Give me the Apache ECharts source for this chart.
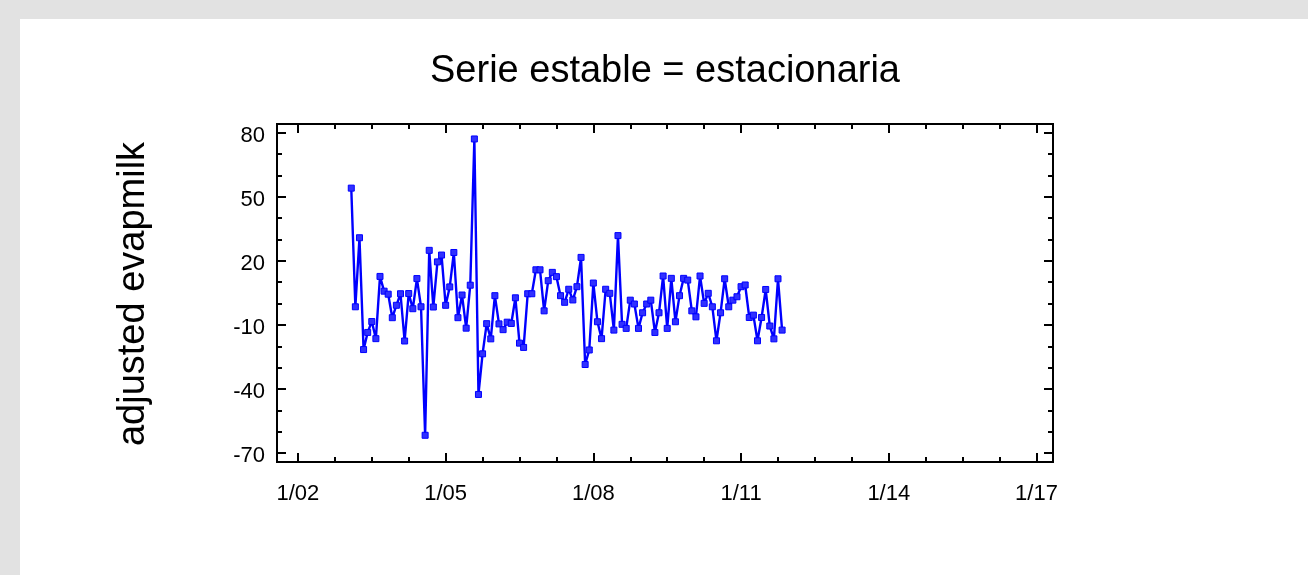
<!DOCTYPE html>
<html>
<head>
<meta charset="utf-8">
<script src="https://cdn.jsdelivr.net/npm/echarts@6/dist/echarts.min.js"></script>
<style>
  html, body { margin: 0; padding: 0; background: #ffffff; }
  #chart { width: 1308px; height: 575px; }
</style>
</head>
<body>
<div id="chart"></div>
<script>
// Monthly adjusted series, starting February 2003
const titleText = 'Serie estable = estacionaria';
const yAxisTitle = 'adjusted evapmilk';
const firstYear = 2003;
const firstMonth = 2;
const values = [
  54.0, -1.5, 30.8, -21.5, -13.5, -8.4, -16.4, 12.7, 5.8, 4.4,
  -6.6, -0.8, 4.6, -17.5, 4.7, -2.4, 11.7, -1.5, -61.6, 24.9,
  -1.6, 19.5, 22.7, -0.8, 7.8, 23.9, -6.6, 4.0, -11.5, 8.6,
  77.0, -42.5, -23.5, -9.4, -16.5, 3.7, -9.5, -12.2, -8.7, -9.3,
  2.7, -18.5, -20.5, 4.6, 4.6, 15.8, 15.8, -3.4, 10.7, 14.6,
  12.6, 3.7, 0.6, 6.7, 1.7, 7.9, 21.6, -28.5, -21.7, 9.6,
  -8.5, -16.4, 6.7, 4.8, -12.4, 31.8, -9.7, -11.6, 1.6, -0.2,
  -11.6, -4.3, -0.2, 1.6, -13.5, -4.3, 12.9, -11.6, 11.8, -8.5,
  3.7, 11.8, 11.0, -3.4, -6.2, 12.9, 0.1, 4.8, -1.5, -17.4,
  -4.3, 11.6, -1.5, 1.6, 3.2, 7.9, 8.7, -6.5, -5.4, -17.4,
  -6.5, 6.6, -10.5, -16.5, 11.6, -12.4
];
// Axis ticks: labelled years (January) and value ticks
const xMajorYears = [2002, 2005, 2008, 2011, 2014, 2017];
const yMajorTicks = [-70, -40, -10, 20, 50, 80];
const yMinorTicks = [-60, -50, -30, -20, 0, 10, 30, 40, 60, 70];

// Month positions as fractional years
const monthLabels = values.map((_, i) => {
  const m = firstMonth - 1 + i;
  return (firstYear + Math.floor(m / 12)) + '-' + String(m % 12 + 1).padStart(2, '0');
});
const points = monthLabels.map((lab, i) => {
  const [y, m] = lab.split('-').map(Number);
  return [y + (m - 1) / 12, values[i]];
});

// Minor x ticks every 9 months between labelled years
const xMinorTicks = [];
for (let k = 0; k < xMajorYears.length - 1; k++) {
  for (let j = 1; j <= 3; j++) xMinorTicks.push(xMajorYears[k] + j * 0.75);
}

const X_MIN = 2001.575, X_MAX = 2017.335;
const Y_MIN = -74.1, Y_MAX = 84.0;
const FONT = '"Liberation Sans", Arial, sans-serif';

function xAxisDef(position, ticks, len, withLabels) {
  return {
    type: 'value', position: position, min: X_MIN, max: X_MAX, offset: 0,
    axisLine: { show: false, onZero: false },
    splitLine: { show: false },
    axisTick: { show: true, inside: true, length: len, customValues: ticks,
                lineStyle: { color: '#000', width: 2 } },
    axisLabel: withLabels ? {
      show: true, customValues: ticks, margin: 21,
      color: '#000', fontSize: 22, fontFamily: FONT,
      formatter: v => '1/' + String(Math.round(v) % 100).padStart(2, '0')
    } : { show: false }
  };
}
function yAxisDef(position, ticks, len, withLabels) {
  return {
    type: 'value', position: position, min: Y_MIN, max: Y_MAX, offset: 0,
    axisLine: { show: false, onZero: false },
    splitLine: { show: false },
    axisTick: { show: true, inside: true, length: len, customValues: ticks,
                lineStyle: { color: '#000', width: 2 } },
    axisLabel: withLabels ? {
      show: true, customValues: ticks, margin: 12,
      formatter: v => '{v|' + v + '}',
      rich: { v: { color: '#000', fontSize: 22, fontFamily: FONT, padding: [6, 0, 0, 0] } }
    } : { show: false }
  };
}

const chart = echarts.init(document.getElementById('chart'), null, { renderer: 'canvas' });
chart.setOption({
  animation: false,
  backgroundColor: '#e2e2e2',
  graphic: [
    { type: 'rect', z: -10, shape: { x: 20, y: 19, width: 1288, height: 556 },
      style: { fill: '#ffffff' }, silent: true },
    { type: 'text', x: 665, y: 72,
      style: { text: titleText, align: 'center', verticalAlign: 'middle',
               fill: '#000', fontSize: 38, fontFamily: FONT } },
    { type: 'text', x: 134, y: 294, rotation: Math.PI / 2,
      style: { text: yAxisTitle, align: 'center', verticalAlign: 'middle',
               fill: '#000', fontSize: 38, fontFamily: FONT } }
  ],
  grid: { left: 277, top: 124, width: 776, height: 338, show: true,
          borderColor: '#000', borderWidth: 2, backgroundColor: '#ffffff' },
  xAxis: [
    xAxisDef('bottom', xMajorYears, 9, true),
    xAxisDef('bottom', xMinorTicks, 5, false),
    xAxisDef('top', xMajorYears, 9, false),
    xAxisDef('top', xMinorTicks, 5, false)
  ],
  yAxis: [
    yAxisDef('left', yMajorTicks, 9, true),
    yAxisDef('left', yMinorTicks, 5, false),
    yAxisDef('right', yMajorTicks, 9, false),
    yAxisDef('right', yMinorTicks, 5, false)
  ],
  series: [{
    type: 'line',
    xAxisIndex: 0, yAxisIndex: 0,
    data: points,
    symbol: 'rect', symbolSize: 6,
    lineStyle: { color: '#0000ff', width: 2.4 },
    itemStyle: { color: '#3030ff', borderColor: '#0000ff', borderWidth: 1 }
  }]
});
</script>
</body>
</html>
